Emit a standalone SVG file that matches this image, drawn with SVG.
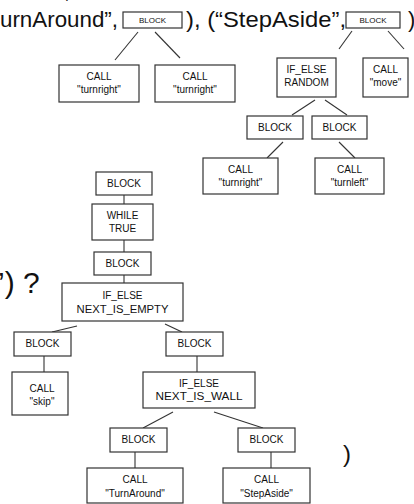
<svg xmlns="http://www.w3.org/2000/svg" width="414" height="504" viewBox="0 0 414 504">
  <style>
    .box { fill: #ffffff; stroke: #333333; stroke-width: 1.2; }
    .lbl { font-family: "Liberation Sans", "DejaVu Sans", sans-serif; font-size: 10px; fill: #111111; text-anchor: middle; }
    .sm { font-size: 8px; }
    .big { font-family: "Liberation Sans", "DejaVu Sans", sans-serif; font-size: 22px; fill: #111111; }
    .edge { stroke: #333333; stroke-width: 1.1; fill: none; }
  </style>
  <rect width="414" height="504" fill="#ffffff"/>

  <!-- surrounding expression text -->
  <g id="expr">
    <text class="big" x="64" y="-2">,</text>
    <text class="big" x="0" y="27" textLength="118" lengthAdjust="spacingAndGlyphs">urnAround”,</text>
    <text class="big" x="186" y="27" textLength="160" lengthAdjust="spacingAndGlyphs">), (“StepAside”,</text>
    <text class="big" x="408" y="27">)</text>
    <text class="big" x="-2" y="293" style="font-size:30px">’) ?</text>
    <text class="big" x="343" y="462" style="font-size:24px">)</text>
  </g>

  <!-- connectors -->
  <g id="connectors">
    <line class="edge" x1="138" y1="32" x2="115" y2="60"/>
    <line class="edge" x1="155" y1="32" x2="180" y2="58"/>
    <line class="edge" x1="352" y1="31" x2="339" y2="49"/>
    <line class="edge" x1="388" y1="31" x2="404" y2="49"/>
    <line class="edge" x1="315" y1="100" x2="292" y2="115"/>
    <line class="edge" x1="325" y1="100" x2="347" y2="115"/>
    <line class="edge" x1="283" y1="142" x2="267" y2="158"/>
    <line class="edge" x1="339" y1="142" x2="355" y2="158"/>

    <line class="edge" x1="124" y1="195" x2="124" y2="204"/>
    <line class="edge" x1="124" y1="240" x2="124" y2="252"/>
    <line class="edge" x1="124" y1="275" x2="124" y2="283"/>
    <line class="edge" x1="77" y1="326" x2="52" y2="332"/>
    <line class="edge" x1="165" y1="324" x2="182" y2="332"/>
    <line class="edge" x1="44" y1="356" x2="44" y2="372"/>
    <line class="edge" x1="197" y1="356" x2="197" y2="372"/>
    <line class="edge" x1="173" y1="412" x2="143" y2="428"/>
    <line class="edge" x1="214" y1="412" x2="263" y2="428"/>
    <line class="edge" x1="135" y1="452" x2="135" y2="468"/>
    <line class="edge" x1="271" y1="452" x2="271" y2="468"/>
  </g>

  <!-- upper trees -->
  <g id="blockTurnAround">
    <rect class="box" x="123" y="12" width="59" height="16"/>
    <text class="lbl sm" x="152.5" y="23">BLOCK</text>
  </g>
  <g id="blockStepAside">
    <rect class="box" x="346" y="12" width="54" height="16"/>
    <text class="lbl sm" x="373" y="23">BLOCK</text>
  </g>
  <g id="callTurnright1">
    <rect class="box" x="59" y="65" width="80" height="37"/>
    <text class="lbl" x="99" y="80">CALL</text>
    <text class="lbl" x="99" y="93">"turnright"</text>
  </g>
  <g id="callTurnright2">
    <rect class="box" x="155" y="65" width="80" height="37"/>
    <text class="lbl" x="195" y="80">CALL</text>
    <text class="lbl" x="195" y="93">"turnright"</text>
  </g>
  <g id="ifElseRandom">
    <rect class="box" x="277" y="58" width="59" height="39"/>
    <text class="lbl" x="306.5" y="73">IF_ELSE</text>
    <text class="lbl" x="306.5" y="86">RANDOM</text>
  </g>
  <g id="callMove">
    <rect class="box" x="363" y="58" width="45" height="39"/>
    <text class="lbl" x="385.5" y="73">CALL</text>
    <text class="lbl" x="385.5" y="86">"move"</text>
  </g>
  <g id="blockRandomA">
    <rect class="box" x="247" y="116" width="56" height="23"/>
    <text class="lbl" x="275" y="131">BLOCK</text>
  </g>
  <g id="blockRandomB">
    <rect class="box" x="312" y="116" width="55" height="23"/>
    <text class="lbl" x="339.5" y="131">BLOCK</text>
  </g>
  <g id="callTurnright3">
    <rect class="box" x="203" y="158" width="75" height="36"/>
    <text class="lbl" x="240.5" y="173">CALL</text>
    <text class="lbl" x="240.5" y="186">"turnright"</text>
  </g>
  <g id="callTurnleft">
    <rect class="box" x="315" y="158" width="69" height="36"/>
    <text class="lbl" x="349.5" y="173">CALL</text>
    <text class="lbl" x="349.5" y="186">"turnleft"</text>
  </g>

  <!-- main program tree -->
  <g id="blockRoot">
    <rect class="box" x="96" y="172" width="56" height="23"/>
    <text class="lbl" x="124" y="187">BLOCK</text>
  </g>
  <g id="whileTrue">
    <rect class="box" x="92" y="204" width="61" height="36"/>
    <text class="lbl" x="122.5" y="219">WHILE</text>
    <text class="lbl" x="122.5" y="232">TRUE</text>
  </g>
  <g id="blockLoop">
    <rect class="box" x="94" y="252" width="57" height="23"/>
    <text class="lbl" x="122.5" y="267">BLOCK</text>
  </g>
  <g id="ifElseEmpty">
    <rect class="box" x="62" y="283" width="121" height="38"/>
    <text class="lbl" x="122.5" y="299">IF_ELSE</text>
    <text class="lbl" x="122.5" y="313" textLength="92" lengthAdjust="spacingAndGlyphs">NEXT_IS_EMPTY</text>
  </g>
  <g id="blockEmpty">
    <rect class="box" x="14" y="332" width="57" height="24"/>
    <text class="lbl" x="42.5" y="347">BLOCK</text>
  </g>
  <g id="blockNotEmpty">
    <rect class="box" x="166" y="332" width="57" height="24"/>
    <text class="lbl" x="194.5" y="347">BLOCK</text>
  </g>
  <g id="callSkip">
    <rect class="box" x="12" y="372" width="56" height="43"/>
    <text class="lbl" x="42" y="392">CALL</text>
    <text class="lbl" x="42" y="405">"skip"</text>
  </g>
  <g id="ifElseWall">
    <rect class="box" x="143" y="372" width="112" height="36"/>
    <text class="lbl" x="199" y="387">IF_ELSE</text>
    <text class="lbl" x="199" y="400" textLength="87" lengthAdjust="spacingAndGlyphs">NEXT_IS_WALL</text>
  </g>
  <g id="blockWall">
    <rect class="box" x="110" y="428" width="57" height="24"/>
    <text class="lbl" x="138.5" y="443">BLOCK</text>
  </g>
  <g id="blockNoWall">
    <rect class="box" x="238" y="428" width="57" height="24"/>
    <text class="lbl" x="266.5" y="443">BLOCK</text>
  </g>
  <g id="callTurnAround">
    <rect class="box" x="87" y="468" width="96" height="35"/>
    <text class="lbl" x="135" y="483">CALL</text>
    <text class="lbl" x="135" y="497">"TurnAround"</text>
  </g>
  <g id="callStepAside">
    <rect class="box" x="223" y="468" width="87" height="35"/>
    <text class="lbl" x="266.5" y="483">CALL</text>
    <text class="lbl" x="266.5" y="497">"StepAside"</text>
  </g>
</svg>
